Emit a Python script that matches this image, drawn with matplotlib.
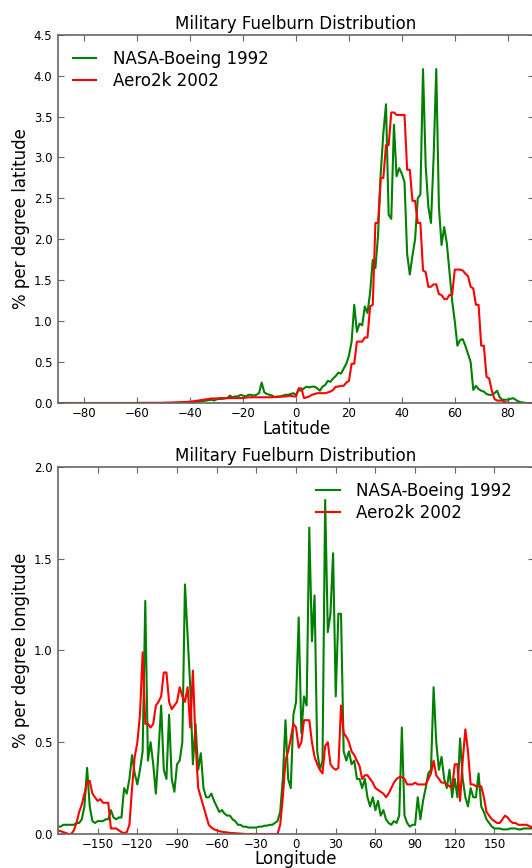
"""
Military fuelburn distribution by latitude and longitude.

Compares the NASA-Boeing 1992 and Aero2k 2002 inventories.
"""

import numpy as np
import matplotlib
matplotlib.use("Agg")
import matplotlib.pyplot as plt

NASA_COLOR = "green"
AERO_COLOR = "red"
SPINE_COLOR = "0.4"

TITLE = "Military Fuelburn Distribution"
SERIES_LABELS = ["NASA-Boeing 1992", "Aero2k 2002"]

# Latitude bins, 1 degree, -90 .. 90
lat = np.arange(-90, 91, 1)

# % of fuelburn per degree latitude
nasa_lat = [
    0, 0, 0, 0, 0, 0, 0, 0, 0, 0,                                   # -90
    0, 0, 0, 0, 0, 0, 0, 0, 0, 0,                                   # -80
    0, 0, 0, 0, 0, 0, 0, 0, 0, 0,                                   # -70
    0, 0, 0, 0, 0, 0, 0, 0, 0, 0,                                   # -60
    0, 0, 0, 0, 0, 0.002, 0.003, 0.004, 0.005, 0.006,               # -50
    0.008, 0.01, 0.012, 0.015, 0.02, 0.025, 0.03, 0.035, 0.04, 0.03,  # -40
    0.045, 0.05, 0.05, 0.055, 0.06, 0.09, 0.07, 0.08, 0.08, 0.1,    # -30
    0.09, 0.08, 0.1, 0.1, 0.09, 0.1, 0.12, 0.25, 0.13, 0.11,        # -20
    0.1, 0.09, 0.07, 0.08, 0.08, 0.09, 0.1, 0.1, 0.11, 0.12,        # -10
    0.1, 0.16, 0.15, 0.18, 0.2, 0.19, 0.2, 0.2, 0.18, 0.15,         # 0
    0.2, 0.22, 0.27, 0.26, 0.3, 0.33, 0.37, 0.36, 0.42, 0.48,       # 10
    0.58, 0.75, 1.2, 0.87, 0.97, 0.95, 1.18, 1.1, 1.35, 1.75,       # 20
    1.65, 2.05, 2.8, 3.3, 3.65, 2.3, 2.25, 3.4, 2.77, 2.87,         # 30
    2.8, 2.7, 1.82, 1.57, 1.8, 2.0, 2.5, 2.55, 4.08, 2.9,           # 40
    2.4, 2.2, 3.0, 4.08, 2.4, 1.93, 2.15, 1.95, 1.6, 1.25,          # 50
    1.0, 0.7, 0.77, 0.78, 0.7, 0.6, 0.5, 0.16, 0.21, 0.17,          # 60
    0.15, 0.14, 0.11, 0.1, 0.1, 0.12, 0.15, 0.07, 0.04, 0.04,       # 70
    0.04, 0.05, 0.06, 0.04, 0.02, 0.01, 0.005, 0, 0, 0,             # 80
    0,                                                              # 90
]

aero_lat = [
    0, 0, 0, 0, 0, 0, 0, 0, 0, 0,                                   # -90
    0, 0, 0, 0, 0, 0, 0, 0, 0, 0,                                   # -80
    0, 0, 0, 0, 0, 0, 0, 0, 0, 0,                                   # -70
    0.002, 0.002, 0.002, 0.002, 0.002, 0.002, 0.002, 0.002, 0.002, 0.002,  # -60
    0.004, 0.005, 0.005, 0.006, 0.007, 0.008, 0.009, 0.01, 0.012, 0.014,   # -50
    0.016, 0.02, 0.025, 0.03, 0.035, 0.04, 0.045, 0.05, 0.055, 0.055,      # -40
    0.055, 0.06, 0.06, 0.06, 0.06, 0.06, 0.06, 0.06, 0.06, 0.06,    # -30
    0.06, 0.065, 0.07, 0.07, 0.07, 0.07, 0.07, 0.07, 0.07, 0.07,    # -20
    0.07, 0.07, 0.075, 0.075, 0.075, 0.08, 0.08, 0.085, 0.09, 0.08,  # -10
    0.08, 0.18, 0.18, 0.06, 0.07, 0.08, 0.1, 0.11, 0.12, 0.12,      # 0
    0.12, 0.12, 0.13, 0.14, 0.16, 0.2, 0.2, 0.21, 0.21, 0.25,       # 10
    0.27, 0.48, 0.48, 0.75, 0.75, 0.75, 0.8, 0.8, 1.18, 1.2,        # 20
    2.2, 2.2, 2.75, 2.75, 3.15, 3.15, 3.55, 3.55, 3.52, 3.52,       # 30
    3.52, 3.52, 2.85, 2.85, 2.47, 2.47, 2.2, 2.2, 1.62, 1.6,        # 40
    1.42, 1.42, 1.45, 1.45, 1.33, 1.32, 1.27, 1.27, 1.32, 1.32,     # 50
    1.63, 1.63, 1.63, 1.62, 1.58, 1.55, 1.42, 1.4, 1.2, 1.2,        # 60
    0.7, 0.7, 0.32, 0.3, 0.15, 0.05, 0.03, 0.03, 0.03, 0.01,        # 70
    0.005, 0, 0, 0, 0, 0, 0, 0, 0, 0,                               # 80
    0,                                                              # 90
]

# Longitude bins, 2 degrees, -180 .. 180
lon = np.arange(-180, 181, 2)

# % of fuelburn per degree longitude
nasa_lon = [
    0.04, 0.04, 0.05, 0.05, 0.05, 0.05, 0.05, 0.06, 0.06, 0.08,     # -180
    0.15, 0.36, 0.15, 0.07, 0.06, 0.07, 0.07, 0.07, 0.08, 0.08,     # -160
    0.13, 0.09, 0.08, 0.09, 0.09, 0.25, 0.22, 0.3, 0.43, 0.33,      # -140
    0.27, 0.35, 0.45, 1.27, 0.4, 0.5, 0.38, 0.22, 0.45, 0.7,        # -120
    0.35, 0.3, 0.65, 0.3, 0.23, 0.38, 0.4, 0.5, 1.36, 1.08,         # -100
    0.8, 0.38, 0.6, 0.35, 0.44, 0.25, 0.2, 0.2, 0.22, 0.18,         # -80
    0.15, 0.12, 0.13, 0.11, 0.1, 0.1, 0.08, 0.07, 0.05, 0.05,       # -60
    0.04, 0.04, 0.035, 0.035, 0.035, 0.035, 0.04, 0.04, 0.045, 0.045,  # -40
    0.05, 0.05, 0.06, 0.07, 0.12, 0.3, 0.62, 0.3, 0.25, 0.65,       # -20
    0.72, 1.18, 0.55, 0.75, 0.7, 1.67, 1.05, 1.3, 0.45, 0.35,       # 0
    0.4, 1.82, 1.1, 1.2, 1.53, 0.75, 1.2, 1.2, 0.45, 0.4,           # 20
    0.45, 0.38, 0.4, 0.3, 0.3, 0.25, 0.3, 0.2, 0.15, 0.2,           # 40
    0.13, 0.18, 0.1, 0.13, 0.08, 0.06, 0.05, 0.07, 0.06, 0.1,       # 60
    0.58, 0.1, 0.06, 0.04, 0.05, 0.05, 0.2, 0.08, 0.18, 0.25,       # 80
    0.33, 0.35, 0.8, 0.5, 0.35, 0.42, 0.3, 0.25, 0.35, 0.2,         # 100
    0.3, 0.2, 0.52, 0.3, 0.2, 0.15, 0.25, 0.2, 0.2, 0.33,           # 120
    0.15, 0.12, 0.08, 0.06, 0.04, 0.03, 0.03, 0.03, 0.025, 0.025,   # 140
    0.025, 0.03, 0.03, 0.03, 0.025, 0.025, 0.03, 0.03, 0.03, 0.03,  # 160
    0.06,                                                           # 180
]

aero_lon = [
    0.02, 0.015, 0.01, 0.005, 0.0, 0.0, 0.02, 0.06, 0.12, 0.16,     # -180
    0.22, 0.28, 0.29, 0.22, 0.2, 0.18, 0.19, 0.17, 0.17, 0.17,      # -160
    0.03, 0.03, 0.03, 0.02, 0.01, 0.005, 0.01, 0.05, 0.25, 0.42,    # -140
    0.5, 0.65, 0.99, 0.6, 0.6, 0.58, 0.6, 0.7, 0.72, 0.75,          # -120
    0.88, 0.88, 0.72, 0.68, 0.7, 0.72, 0.8, 0.75, 0.72, 0.8,        # -100
    0.58, 0.89, 0.5, 0.25, 0.2, 0.15, 0.1, 0.05, 0.035, 0.025,      # -80
    0.02, 0.015, 0.012, 0.01, 0.008, 0.006, 0.005, 0.004, 0.003, 0.002,  # -60
    0.001, 0, 0, 0, 0, 0, 0, 0, 0, 0,                               # -40
    0, 0, 0, 0, 0.05, 0.2, 0.4, 0.45, 0.52, 0.6,                    # -20
    0.58, 0.47, 0.5, 0.62, 0.62, 0.62, 0.5, 0.42, 0.38, 0.35,       # 0
    0.33, 0.48, 0.5, 0.38, 0.36, 0.35, 0.36, 0.7, 0.55, 0.53,       # 20
    0.5, 0.45, 0.43, 0.4, 0.37, 0.3, 0.32, 0.32, 0.3, 0.28,         # 40
    0.25, 0.24, 0.23, 0.22, 0.2, 0.22, 0.25, 0.28, 0.3, 0.31,       # 60
    0.31, 0.3, 0.27, 0.27, 0.27, 0.28, 0.27, 0.27, 0.27, 0.27,      # 80
    0.3, 0.33, 0.4, 0.32, 0.3, 0.28, 0.28, 0.27, 0.26, 0.25,        # 100
    0.38, 0.38, 0.18, 0.4, 0.57, 0.45, 0.27, 0.27, 0.26, 0.26,      # 120
    0.26, 0.2, 0.12, 0.1, 0.08, 0.07, 0.06, 0.06, 0.08, 0.1,        # 140
    0.09, 0.07, 0.06, 0.06, 0.05, 0.05, 0.05, 0.05, 0.045, 0.035,   # 160
    0.03,                                                           # 180
]

lat_ticks = [-80, -60, -40, -20, 0, 20, 40, 60, 80]
lat_yticks = [0.0, 0.5, 1.0, 1.5, 2.0, 2.5, 3.0, 3.5, 4.0, 4.5]
lon_ticks = [-150, -120, -90, -60, -30, 0, 30, 60, 90, 120, 150]
lon_yticks = [0.0, 0.5, 1.0, 1.5, 2.0]


def style_axes(ax):
    """Old-style look: inward ticks on all four sides, grey frame."""
    for spine in ax.spines.values():
        spine.set_color(SPINE_COLOR)
        spine.set_linewidth(1.2)
    ax.tick_params(direction="in", top=True, right=True, length=4,
                   width=0.8, color=SPINE_COLOR, labelsize=8.5)
    ax.tick_params(axis="x", pad=3)
    ax.tick_params(axis="y", pad=4)
    ax.yaxis.set_major_formatter(plt.FormatStrFormatter("%.1f"))


fig = plt.figure(figsize=(5.32, 8.68), dpi=100)
fig.patch.set_facecolor("white")

# Latitude panel
ax1 = fig.add_axes([0.109, 0.5357, 0.895, 0.4243])
ax1.plot(lat, nasa_lat, color=NASA_COLOR, lw=1.5, label=SERIES_LABELS[0])
ax1.plot(lat, aero_lat, color=AERO_COLOR, lw=1.5, label=SERIES_LABELS[1])
ax1.set_xlim(-90, 90)
ax1.set_ylim(0, 4.5)
ax1.set_xticks(lat_ticks)
ax1.set_yticks(lat_yticks)
style_axes(ax1)
ax1.set_title(TITLE, fontsize=12, pad=4)
ax1.set_xlabel("Latitude", fontsize=12, labelpad=0)
ax1.set_ylabel("% per degree latitude", fontsize=12, labelpad=3)
ax1.legend(loc="upper left", frameon=False, fontsize=12, handlelength=1.4,
           handletextpad=1.0, labelspacing=0.25)

# Longitude panel
ax2 = fig.add_axes([0.109, 0.0392, 0.895, 0.4228])
ax2.plot(lon, nasa_lon, color=NASA_COLOR, lw=1.5, label=SERIES_LABELS[0])
ax2.plot(lon, aero_lon, color=AERO_COLOR, lw=1.5, label=SERIES_LABELS[1])
ax2.set_xlim(-180, 180)
ax2.set_ylim(0, 2.0)
ax2.set_xticks(lon_ticks)
ax2.set_yticks(lon_yticks)
style_axes(ax2)
ax2.set_title(TITLE, fontsize=12, pad=4)
ax2.set_xlabel("Longitude", fontsize=12, labelpad=-1)
ax2.set_ylabel("% per degree longitude", fontsize=12, labelpad=3)
ax2.legend(loc="upper right", bbox_to_anchor=(0.985, 1.0), frameon=False,
           fontsize=12, handlelength=1.4, handletextpad=1.0, labelspacing=0.25)

fig.savefig("out.png", dpi=100, facecolor="white")
plt.close(fig)
